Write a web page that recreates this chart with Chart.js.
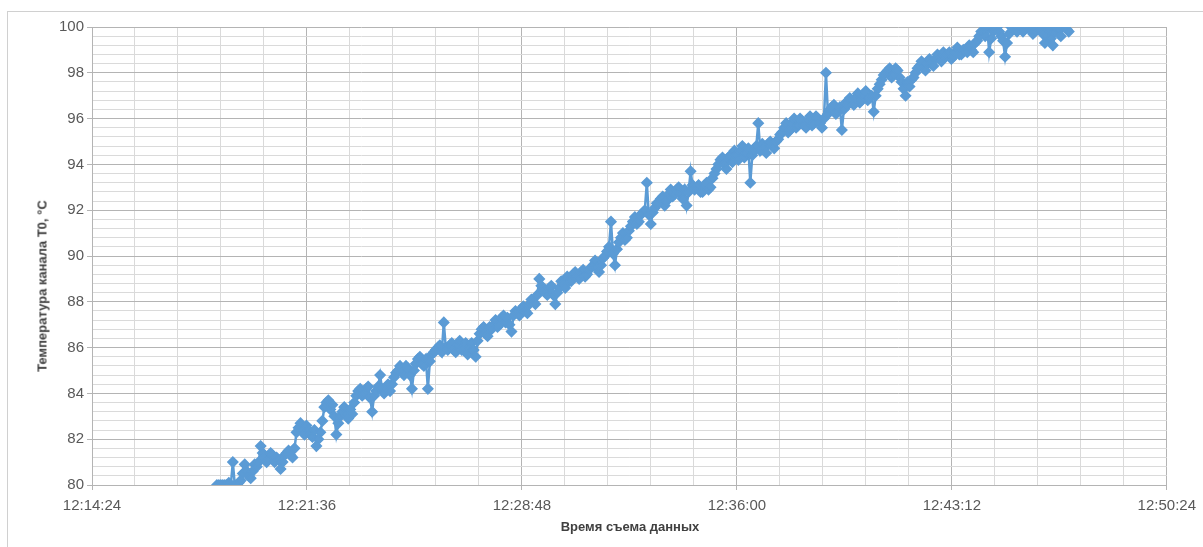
<!DOCTYPE html>
<html>
<head>
<meta charset="utf-8">
<script src="https://cdn.jsdelivr.net/npm/chart.js@4/dist/chart.umd.min.js"></script>
<style>
  html, body { margin: 0; padding: 0; background: #ffffff; }
  #wrap { position: relative; width: 1203px; height: 547px; overflow: hidden; background: #fff; }
  #frame { position: absolute; left: 7px; top: 11px; width: 1400px; height: 700px; border: 1.5px solid #d0d0d0; box-sizing: border-box; }
  canvas { position: absolute; left: 0; top: 0; }
  .ttl { position: absolute; font-family: "Liberation Sans", Arial, sans-serif; font-weight: bold; font-size: 13px; color: #404040; white-space: nowrap; }
  #xt { left: 630px; top: 526px; transform: translate(-50%, -50%); }
  #yt { left: 42px; top: 286px; transform: translate(-50%, -50%) rotate(-90deg); }
</style>
</head>
<body>
<div id="wrap">
  <div id="frame"></div>
  <canvas id="c" width="1203" height="547"></canvas>
  <div class="ttl" id="xt">Время съема данных</div>
  <div class="ttl" id="yt">Температура канала Т0, °C</div>
</div>
<script>
// Axis origin time (12:14:24)
const axisStartClock = "12:14:24";
const axisSpanSec = 2160;          // up to 12:50:24
const majorStepSec = 432;          // 7:12
const minorStepSec = 86.4;
const yMin = 80, yMax = 100, yMajor = 2, yMinor = 0.4;

// Readings every 4 s starting 12:18:35 (offset 251 s from axis start).
// tempsA: readings at 12:18:35, 12:18:43, ... ; tempsB: readings at 12:18:39, 12:18:47, ...
const firstReadingSec = 251;
const readingStepSec = 4;

// Temperature of channel T0, °C
const tempsA = [
  80.0, 80.0, 80.0, 80.1, 81.0, 80.0, 80.2, 80.9, 80.4, 80.6,
  80.8, 81.7, 81.2, 81.1, 81.3, 81.2, 80.7, 81.3, 81.5, 81.2,
  82.3, 82.7, 82.2, 82.4, 82.1, 81.7, 82.3, 83.4, 83.7, 83.5,
  82.2, 83.0, 83.4, 82.9, 83.1, 83.9, 84.2, 84.0, 84.3, 83.2,
  84.1, 84.8, 84.0, 84.4, 84.4, 84.9, 85.2, 84.8, 85.1, 84.2,
  85.3, 85.6, 85.2, 84.2, 85.7, 85.9, 86.1, 87.1, 85.9, 86.2,
  85.8, 86.3, 86.0, 85.7, 86.2, 85.6, 86.6, 86.9, 86.5, 86.8,
  87.2, 87.0, 87.4, 87.3, 86.7, 87.6, 87.4, 87.8, 87.5, 88.1,
  87.9, 89.0, 88.5, 88.3, 88.7, 87.9, 88.6, 88.8, 89.1, 88.9,
  89.3, 89.0, 89.4, 89.2, 89.5, 89.8, 89.3, 89.9, 90.2, 91.5,
  89.6, 90.6, 91.0, 90.8, 91.3, 91.7, 91.5, 91.9, 93.2, 91.4,
  92.1, 92.3, 92.6, 92.4, 92.9, 92.7, 93.0, 92.5, 92.2, 93.7,
  92.9, 93.1, 92.8, 93.2, 93.0, 93.6, 94.0, 94.3, 93.8, 94.4,
  94.6, 94.2, 94.8, 94.5, 93.2, 94.6, 95.8, 94.9, 94.5, 95.0,
  94.7, 95.1, 95.4, 95.8, 95.5, 96.0, 95.7, 95.9, 95.6, 96.1,
  95.8, 96.0, 95.6, 98.0, 96.4, 96.6, 96.3, 95.5, 96.7, 96.9,
  96.6, 97.1, 96.8, 97.2, 96.9, 96.3, 97.3, 97.7, 98.0, 98.2,
  97.9, 98.1, 97.6, 97.0, 97.4, 97.8, 98.2, 98.5, 98.1, 98.6,
  98.3, 98.8, 98.5, 98.7, 98.9, 98.7, 99.1, 98.8, 99.0, 99.2,
  98.9, 99.4, 99.8, 99.6, 98.9, 99.8, 100.0, 99.6, 98.7, 99.7,
  100.0, 99.8, 100.0, 99.9, 100.0, 99.7, 100.0, 100.0, 99.3, 99.9,
  99.2, 100.0, 99.6, 100.0, 99.8
];
const tempsB = [
  80.0, 80.0, 80.0, 80.0, 80.0, 80.1, 80.5, 80.6, 80.3, 80.9,
  81.0, 81.4, 81.0, 81.4, 81.0, 81.1, 81.0, 81.4, 81.3, 81.6,
  82.5, 82.4, 82.6, 82.2, 82.4, 82.0, 82.8, 83.6, 83.3, 83.0,
  82.7, 83.2, 83.1, 83.3, 83.6, 84.1, 83.9, 84.2, 83.8, 83.9,
  84.3, 84.2, 84.2, 84.1, 84.7, 85.0, 84.9, 85.2, 84.8, 85.0,
  85.5, 85.3, 85.5, 85.4, 85.8, 86.0, 85.8, 86.0, 86.1, 85.9,
  86.1, 85.9, 86.2, 86.0, 85.9, 86.3, 86.8, 86.6, 86.9, 87.0,
  86.9, 87.3, 87.1, 87.0, 87.4, 87.5, 87.7, 87.6, 87.9, 88.0,
  88.3, 88.7, 88.4, 88.6, 88.3, 88.4, 88.9, 88.6, 88.9, 89.2,
  89.1, 89.3, 89.1, 89.4, 89.6, 89.5, 89.6, 90.0, 90.4, 90.1,
  90.3, 90.8, 90.7, 91.1, 91.5, 91.4, 91.8, 92.0, 91.8, 91.9,
  92.3, 92.5, 92.2, 92.7, 92.6, 92.9, 92.7, 92.9, 92.8, 93.1,
  93.0, 92.8, 93.1, 92.9, 93.4, 93.8, 94.2, 94.0, 94.3, 94.1,
  94.4, 94.6, 94.3, 94.7, 94.4, 94.8, 94.6, 94.7, 94.9, 94.8,
  95.0, 95.3, 95.6, 95.4, 95.8, 95.6, 96.0, 95.7, 95.9, 95.7,
  96.1, 95.8, 96.0, 96.2, 96.5, 96.2, 96.5, 96.4, 96.6, 96.8,
  96.9, 96.7, 97.0, 96.8, 97.0, 97.0, 97.5, 97.9, 98.1, 97.8,
  98.2, 97.8, 97.3, 97.6, 97.7, 98.0, 98.3, 98.2, 98.4, 98.4,
  98.6, 98.6, 98.9, 98.8, 98.6, 98.9, 98.8, 99.0, 98.9, 99.0,
  99.3, 99.6, 99.7, 100.0, 99.5, 99.9, 99.8, 99.4, 99.3, 100.0,
  99.9, 100.0, 99.8, 100.0, 99.9, 99.8, 99.9, 99.7, 99.6, 99.5,
  99.8, 99.9, 100.0, 99.9
];

// Merge the two interleaved reading lists in time order
const points = [];
for (let i = 0; i < tempsA.length; i++) {
  points.push({ x: firstReadingSec + (2 * i) * readingStepSec, y: tempsA[i] });
  if (i < tempsB.length) points.push({ x: firstReadingSec + (2 * i + 1) * readingStepSec, y: tempsB[i] });
}

function clockToSec(s) { const p = s.split(':').map(Number); return p[0]*3600 + p[1]*60 + p[2]; }
const baseSec = clockToSec(axisStartClock);
function fmt(sec) {
  sec = Math.round(sec) + baseSec;
  const h = Math.floor(sec / 3600), m = Math.floor((sec % 3600) / 60), s = sec % 60;
  return h + ':' + String(m).padStart(2, '0') + ':' + String(s).padStart(2, '0');
}
const isXMajor = v => Math.abs(v / majorStepSec - Math.round(v / majorStepSec)) < 1e-6;
const isYMajor = v => Math.abs((v - yMin) / yMajor - Math.round((v - yMin) / yMajor)) < 1e-6;

const MAJOR = '#b4b4b4', MINOR = '#dadada';
const FONT = { family: '"Liberation Sans", Arial, sans-serif', size: 15 };

new Chart(document.getElementById('c'), {
  type: 'line',
  data: {
    datasets: [{
      data: points,
      borderColor: '#5b9bd5',
      backgroundColor: '#5b9bd5',
      borderWidth: 2.5,
      pointStyle: 'rectRot',
      pointRadius: 5,
      pointBorderWidth: 1.5,
      pointBackgroundColor: '#5b9bd5',
      pointBorderColor: '#5b9bd5',
      tension: 0,
      fill: false
    }]
  },
  options: {
    responsive: false,
    animation: false,
    devicePixelRatio: 1,
    layout: { padding: { left: 0, top: 27, right: 35, bottom: 0 } },
    plugins: { legend: { display: false }, tooltip: { enabled: false } },
    scales: {
      x: {
        type: 'linear',
        min: 0, max: axisSpanSec,
        afterFit: s => { s.height = 62; },
        border: { display: true, color: MAJOR, width: 1 },
        grid: {
          drawOnChartArea: true,
          color: c => isXMajor(c.tick.value) ? MAJOR : MINOR,
          tickColor: c => isXMajor(c.tick.value) ? MAJOR : 'rgba(0,0,0,0)',
          tickLength: 5,
          lineWidth: 1
        },
        ticks: {
          stepSize: minorStepSec,
          autoSkip: false,
          maxRotation: 0,
          padding: 7,
          color: '#595959',
          font: FONT,
          callback: v => isXMajor(v) ? fmt(v) : ''
        }
      },
      y: {
        min: yMin, max: yMax,
        afterFit: s => { s.width = 92; },
        border: { display: true, color: MAJOR, width: 1 },
        grid: {
          color: c => isYMajor(c.tick.value) ? MAJOR : MINOR,
          tickColor: c => isYMajor(c.tick.value) ? MAJOR : 'rgba(0,0,0,0)',
          tickLength: 5,
          lineWidth: 1
        },
        ticks: {
          stepSize: yMinor,
          autoSkip: false,
          padding: 3,
          color: '#595959',
          font: FONT,
          callback: v => isYMajor(v) ? String(Math.round(v)) : ''
        }
      }
    }
  }
});
</script>
</body>
</html>
